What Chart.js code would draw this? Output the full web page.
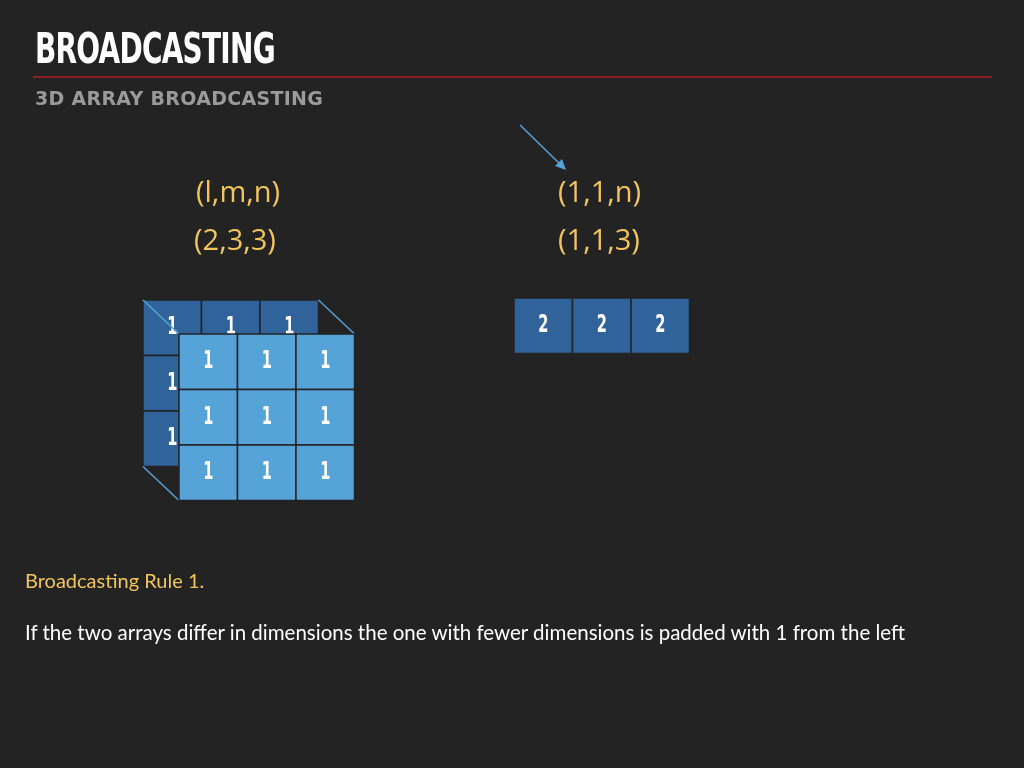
<!DOCTYPE html>
<html>
<head>
<meta charset="utf-8">
<script src="https://cdn.jsdelivr.net/npm/chart.js@4"></script>
<style>
  body { margin: 0; background: #232323; }
  #wrap { position: relative; width: 1024px; height: 768px; overflow: hidden; }
  canvas { position: absolute; left: 0; top: 0; }
  .t { position: absolute; white-space: nowrap; }
  .title { left: 35px; top: 24px; color: #fff; font: bold 42px "DejaVu Sans Condensed", sans-serif; letter-spacing: -1px; transform: scaleX(0.74); transform-origin: left top; }
  .rule { position: absolute; left: 33px; top: 76px; width: 959px; height: 2px; background: #8e1d1d; }
  .sub { left: 35px; top: 87px; color: #9a9a9a; font: bold 19px "DejaVu Sans", sans-serif; letter-spacing: 0.3px; }
  .yl { color: #f2c55c; font: 29px "Open Sans", sans-serif; }
  .rule1 { left: 25px; top: 568px; color: #f2c55c; font: 20px "Lato", sans-serif; }
  .desc { left: 25px; top: 620px; color: #fff; font: 20.5px "Lato", sans-serif; }
</style>
</head>
<body>
<div id="wrap">
  <canvas id="c" width="1024" height="768"></canvas>
  <div class="t title">BROADCASTING</div>
  <div class="rule"></div>
  <div class="t sub">3D ARRAY BROADCASTING</div>
  <div class="t yl" style="left:196px;top:171px">(l,m,n)</div>
  <div class="t yl" style="left:194px;top:219px">(2,3,3)</div>
  <div class="t yl" style="left:558px;top:171px">(1,1,n)</div>
  <div class="t yl" style="left:558px;top:219px">(1,1,3)</div>
  <div class="t rule1">Broadcasting Rule 1.</div>
  <div class="t desc">If the two arrays differ in dimensions the one with fewer dimensions is padded with 1 from the left</div>
</div>
<script>
// values of the arrays
const backValues = [[1, 1, 1], [1, 1, 1], [1, 1, 1]];
const frontValues = [[1, 1, 1], [1, 1, 1], [1, 1, 1]];
const rowValues = [2, 2, 2];

// layout (pixel-space units of the hidden scales)
const cellW = 58.5, cellH = 55.5;
const backOrigin = [143, 300];
const frontOrigin = [179, 334];
const rowOrigin = [514, 298];
const darkBlue = '#2f6399';
const lightBlue = '#56a3d8';

const cellPlugin = {
  id: 'cells',
  afterDatasetsDraw(chart) {
    const ctx = chart.ctx;
    const xs = chart.scales.x, ys = chart.scales.y;
    const px = v => xs.getPixelForValue(v);
    const py = v => ys.getPixelForValue(v);

    function grid(values, origin, fill) {
      values.forEach((row, r) => {
        row.forEach((v, c) => {
          const x0 = px(origin[0] + c * cellW), y0 = py(origin[1] + r * cellH);
          const x1 = px(origin[0] + (c + 1) * cellW), y1 = py(origin[1] + (r + 1) * cellH);
          ctx.fillStyle = fill;
          ctx.fillRect(x0, y0, x1 - x0, y1 - y0);
          ctx.strokeStyle = '#232323';
          ctx.lineWidth = 1.5;
          ctx.strokeRect(x0, y0, x1 - x0, y1 - y0);
          // tall narrow digits
          ctx.save();
          ctx.translate((x0 + x1) / 2, (y0 + y1) / 2);
          ctx.scale(0.65, 1);
          ctx.fillStyle = '#fff';
          ctx.font = 'bold 25px "DejaVu Sans Condensed", sans-serif';
          ctx.textAlign = 'center';
          ctx.textBaseline = 'middle';
          ctx.fillText(String(v), 0, 0);
          ctx.restore();
        });
      });
    }
    function line(a, b, color, w) {
      ctx.beginPath();
      ctx.moveTo(px(a[0]), py(a[1]));
      ctx.lineTo(px(b[0]), py(b[1]));
      ctx.strokeStyle = color;
      ctx.lineWidth = w;
      ctx.stroke();
    }

    ctx.save();
    grid(backValues, backOrigin, darkBlue);
    const bw = cellW * 3, bh = cellH * 3;
    line(backOrigin, frontOrigin, lightBlue, 1.5);
    line([backOrigin[0] + bw, backOrigin[1]], [frontOrigin[0] + bw, frontOrigin[1]], lightBlue, 1.5);
    line([backOrigin[0], backOrigin[1] + bh], [frontOrigin[0], frontOrigin[1] + bh], lightBlue, 1.5);
    grid(frontValues, frontOrigin, lightBlue);
    grid([rowValues], rowOrigin, darkBlue);

    // arrow
    line([520, 125], [562, 166], lightBlue, 1.5);
    ctx.beginPath();
    ctx.moveTo(px(566), py(170));
    ctx.lineTo(px(555), py(166));
    ctx.lineTo(px(562), py(159));
    ctx.closePath();
    ctx.fillStyle = lightBlue;
    ctx.fill();
    ctx.restore();
  }
};

new Chart(document.getElementById('c'), {
  type: 'scatter',
  data: { datasets: [{ data: [], pointRadius: 0 }] },
  options: {
    responsive: false,
    animation: false,
    devicePixelRatio: 1,
    layout: { padding: 0 },
    plugins: { legend: { display: false }, tooltip: { enabled: false } },
    scales: {
      x: { type: 'linear', min: 0, max: 1024, display: false },
      y: { type: 'linear', min: 0, max: 768, reverse: true, display: false }
    }
  },
  plugins: [cellPlugin]
});
</script>
</body>
</html>
